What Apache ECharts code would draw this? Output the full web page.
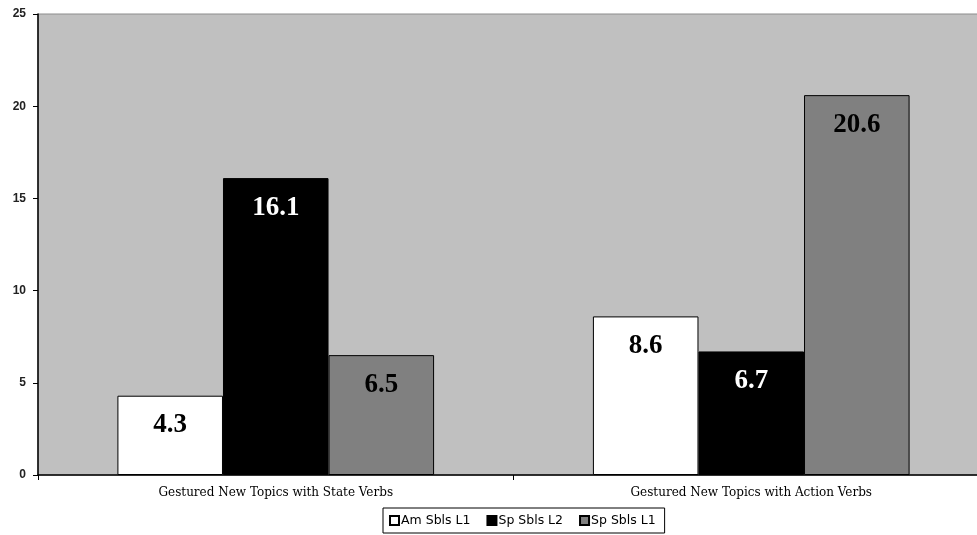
<!DOCTYPE html>
<html><head><meta charset="utf-8">
<script src="https://cdn.jsdelivr.net/npm/echarts@6/dist/echarts.min.js"></script>
<style>html,body{margin:0;padding:0;background:#fff}#c{width:977px;height:535px}</style>
</head><body><div id="c"></div>
<script>
var categories = ['Gestured New Topics with State Verbs', 'Gestured New Topics with Action Verbs'];
var seriesNames = ['Am Sbls L1', 'Sp Sbls L2', 'Sp Sbls L1'];
var amL1 = [4.3, 8.6];
var spL2 = [16.1, 6.7];
var spL1 = [6.5, 20.6];
var yTicks = [0, 5, 10, 15, 20, 25];

var colors = ['#ffffff', '#000000', '#808080'];
var labelColors = ['#000000', '#ffffff', '#000000'];
var values = [amL1, spL2, spL1];

var chart = echarts.init(document.getElementById('c'), null, {renderer: 'canvas'});
chart.setOption({
  animation: false,
  backgroundColor: '#ffffff',
  grid: {left: 38, top: 14, width: 951, height: 461, containLabel: false,
         outerBoundsMode: 'none',
         show: true, backgroundColor: '#c0c0c0', borderColor: '#8c8c8c', borderWidth: 1},
  legend: {
    data: seriesNames, left: 383, top: 508, orient: 'horizontal',
    itemWidth: 9, itemHeight: 9, itemGap: 16, icon: 'rect',
    borderColor: '#000', borderWidth: 1, padding: [6, 9, 6, 6],
    textStyle: {fontFamily: 'DejaVu Sans', fontSize: 12.5, color: '#000', padding: [0, 0, 0, -3]}
  },
  xAxis: {
    type: 'category', data: categories,
    axisLine: {lineStyle: {color: '#000', width: 1.5}},
    axisTick: {show: true, length: 5, lineStyle: {color: '#000'}},
    axisLabel: {fontFamily: 'DejaVu Serif', fontSize: 12, color: '#000', margin: 12}
  },
  yAxis: {
    type: 'value', min: yTicks[0], max: yTicks[yTicks.length - 1], interval: 5,
    axisLine: {show: true, lineStyle: {color: '#000', width: 1.5}},
    axisTick: {show: true, length: 5, lineStyle: {color: '#000'}},
    splitLine: {show: false},
    axisLabel: {fontFamily: 'Liberation Sans, Arial', fontSize: 12, fontWeight: 'bold', color: '#222', margin: 12}
  },
  series: seriesNames.map(function (n, i) {
    return {
      name: n, type: 'bar', data: values[i],
      barGap: '0%', barCategoryGap: '33.4%',
      itemStyle: {color: colors[i], borderColor: '#000', borderWidth: 1},
      label: {show: true, position: 'insideTop', distance: 16,
              fontFamily: 'Liberation Serif, Times New Roman', fontWeight: 'bold',
              fontSize: 27, color: labelColors[i]}
    };
  })
});
</script></body></html>
